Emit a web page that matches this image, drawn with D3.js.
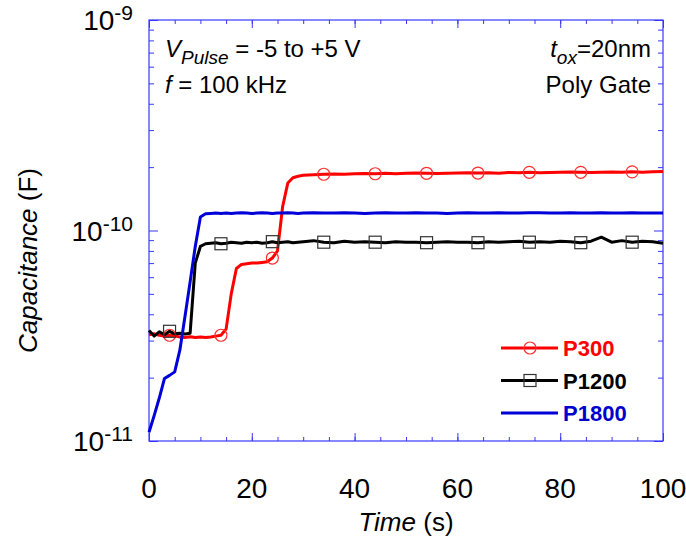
<!DOCTYPE html>
<html>
<head>
<meta charset="utf-8">
<script src="https://cdn.jsdelivr.net/npm/d3@7"></script>
<style>
  body { margin: 0; background: #fff; }
  text { font-family: Arial, "Liberation Sans", sans-serif; }
</style>
</head>
<body>
<div id="graph"></div>
<script>
// time in seconds, capacitance in pF (1 pF = 1e-12 F)
var time = [0,1,2,3,4,5,6,7,8,9,10,11,12,13,14,15,16,17,18,19,20,21,22,23,24,25,26,27,28,29,30,
  32,34,36,38,40,42,44,46,48,50,52,54,56,58,60,62,64,66,68,70,72,74,76,78,80,82,84,86,88,90,92,94,96,98,100];

var p300 = [32.0,32.3,31.8,31.5,31.8,31.6,31.2,31.0,31.3,31.0,31.2,31.0,31.2,31.5,31.8,34,50,66,69,69.5,70,70,70.5,71,74,80,130,168,178,181,183,
  184,185,185.5,185,186,186.5,186,187,186,187,187.5,187,186.5,187,187.5,188,187.5,188,187,188.5,188,189,188,188.5,189,189.5,189,188.5,189,189.5,189,190,189,190,190.5];

var p1200 = [33.5,31.5,33.0,32.0,33.2,32.3,32.5,32.2,32.5,70,84,86.5,87,87.5,86.5,87,88,87.5,87,88,87.5,88,87,87.5,88.5,87.5,88,88.5,87.5,88,88.5,
  89.5,88,87.5,89,88,88.5,88,87.5,88.5,88,88,87.5,88,88.5,88,88,87.5,88.5,88,88.5,89,88,88.5,88,89,88.5,87.5,89,93,88,89.5,88,89,88.5,87];

var p1800 = [11.0,13.2,16.0,19.8,20.5,21.3,27,39,57,84,116,120,120.5,121,120.5,121,120.5,121,121.5,121,120.5,121,121.5,121,120.5,121,121,121.5,121,120.5,121,
  121.5,121,121,121.5,121,120.5,121,121.5,121,121,121.5,121,121,120.5,121,121.5,121,121,121.5,121,121,121.5,121.5,121,121,121.5,121,121,121.5,121,121,121.5,121,121,121];

var markerTimes = [4,14,24,34,44,54,64,74,84,94];
var xTicks = [0,20,40,60,80,100];
var yDecades = [10,100,1000];
var yLabels = ["-11","-10","-9"];
var seriesNames = ["P300","P1200","P1800"];

var margin = {top: 20, right: 23, bottom: 103, left: 149},
width = 686 - margin.left - margin.right,
height = 544 - margin.top - margin.bottom;

var frameColor = "#3838ff";

var svg = d3.select("#graph")
.append("svg")
.attr("width", 686)
.attr("height", 544)
.append("g")
.attr("transform", "translate(" + margin.left + "," + margin.top + ")");

var x = d3.scaleLinear().domain([0, 100]).range([0, width]);
var y = d3.scaleLog().domain([10, 1000]).range([height, 0]);

// minor ticks
var xMinor = d3.range(0, 101, 5);
var yMinor = [];
[10, 100].forEach(function(d) { for (var k = 2; k <= 9; k++) yMinor.push(d * k); });

function tickAxis(axis, g) {
  g.call(axis);
  g.select(".domain").remove();
  g.selectAll("line").attr("stroke", frameColor);
}

// bottom + top
tickAxis(d3.axisBottom(x).tickValues(xMinor).tickSize(-4).tickFormat(""),
  svg.append("g").attr("transform", "translate(0," + height + ")"));
tickAxis(d3.axisBottom(x).tickValues(xTicks).tickSize(-8).tickFormat(""),
  svg.append("g").attr("transform", "translate(0," + height + ")"));
tickAxis(d3.axisTop(x).tickValues(xMinor).tickSize(-4).tickFormat(""), svg.append("g"));
tickAxis(d3.axisTop(x).tickValues(xTicks).tickSize(-8).tickFormat(""), svg.append("g"));
// left + right
tickAxis(d3.axisLeft(y).tickValues(yMinor).tickSize(-5).tickFormat(""), svg.append("g"));
tickAxis(d3.axisLeft(y).tickValues(yDecades).tickSize(-9).tickFormat(""), svg.append("g"));
tickAxis(d3.axisRight(y).tickValues(yMinor).tickSize(-5).tickFormat(""),
  svg.append("g").attr("transform", "translate(" + width + ",0)"));
tickAxis(d3.axisRight(y).tickValues(yDecades).tickSize(-9).tickFormat(""),
  svg.append("g").attr("transform", "translate(" + width + ",0)"));

svg.append("rect")
  .attr("width", width)
  .attr("height", height)
  .attr("fill", "none")
  .attr("stroke", frameColor)
  .attr("stroke-width", 1.2);

// tick labels
svg.selectAll(".xlab")
  .data(xTicks)
  .enter().append("text")
  .attr("class", "xlab")
  .attr("x", function(d) { return x(d); })
  .attr("y", height + 57)
  .attr("text-anchor", "middle")
  .style("font-size", "28px")
  .text(function(d) { return d; });

var ylab = svg.selectAll(".ylab")
  .data(yDecades)
  .enter().append("text")
  .attr("class", "ylab")
  .attr("x", -16)
  .attr("y", function(d) { return y(d) + 10; })
  .attr("text-anchor", "end")
  .style("font-size", "28px");
ylab.append("tspan").text("10");
ylab.append("tspan")
  .attr("dy", -10)
  .style("font-size", "21px")
  .text(function(d, i) { return yLabels[i]; });

// axis titles
var xt = svg.append("text")
  .attr("x", width / 2)
  .attr("y", height + 90)
  .attr("text-anchor", "middle")
  .style("font-size", "26px");
xt.append("tspan").style("font-style", "italic").text("Time");
xt.append("tspan").text(" (s)");

var yt = svg.append("text")
  .attr("transform", "translate(-112," + (height / 2 + 30) + ") rotate(-90)")
  .attr("text-anchor", "middle")
  .style("font-size", "26px");
yt.append("tspan").style("font-style", "italic").text("Capacitance");
yt.append("tspan").text(" (F)");

// annotations
var a1 = svg.append("text").attr("x", 16).attr("y", 37).style("font-size", "24px");
a1.append("tspan").style("font-style", "italic").text("V");
a1.append("tspan").attr("dy", 7).style("font-style", "italic").style("font-size", "19px").text("Pulse");
a1.append("tspan").attr("dy", -7).text(" = -5 to +5 V");

var a2 = svg.append("text").attr("x", 16).attr("y", 73).style("font-size", "24px");
a2.append("tspan").style("font-style", "italic").text("f");
a2.append("tspan").text(" = 100 kHz");

var a3 = svg.append("text").attr("x", width - 12).attr("y", 37).attr("text-anchor", "end").style("font-size", "24px");
a3.append("tspan").style("font-style", "italic").text("t");
a3.append("tspan").attr("dy", 7).style("font-style", "italic").style("font-size", "19px").text("ox");
a3.append("tspan").attr("dy", -7).text("=20nm");

svg.append("text").attr("x", width - 12).attr("y", 73).attr("text-anchor", "end")
  .style("font-size", "24px").text("Poly Gate");

// lines
var series = [
  {name: seriesNames[0], values: p300, color: "#ff0000", textColor: "#ff0000", marker: "circle"},
  {name: seriesNames[1], values: p1200, color: "#000000", textColor: "#000000", marker: "square"},
  {name: seriesNames[2], values: p1800, color: "#0000d8", textColor: "#0000cc", marker: "none"}
];

var line = d3.line()
  .x(function(d) { return x(d.t); })
  .y(function(d) { return y(d.v); });

series.forEach(function(s) {
  s.points = time.map(function(t, i) { return {t: t, v: s.values[i]}; });
  svg.append("path")
    .datum(s.points)
    .attr("fill", "none")
    .attr("stroke", s.color)
    .attr("stroke-width", 3)
    .attr("stroke-linejoin", "round")
    .attr("d", line);
});

// markers
var redPts = series[0].points.filter(function(d) { return markerTimes.indexOf(d.t) >= 0; });
svg.selectAll(".dot")
  .data(redPts)
  .enter().append("circle")
  .attr("class", "dot")
  .attr("cx", function(d) { return x(d.t); })
  .attr("cy", function(d) { return y(d.v); })
  .attr("r", 6)
  .attr("fill", "none")
  .attr("stroke", "#ff3030")
  .attr("stroke-width", 1.2);

var blackPts = series[1].points.filter(function(d) { return markerTimes.indexOf(d.t) >= 0; });
svg.selectAll(".sq")
  .data(blackPts)
  .enter().append("rect")
  .attr("class", "sq")
  .attr("x", function(d) { return x(d.t) - 6; })
  .attr("y", function(d) { return y(d.v) - 6; })
  .attr("width", 12)
  .attr("height", 12)
  .attr("fill", "none")
  .attr("stroke", "#333")
  .attr("stroke-width", 1.2);

// legend
var lg = svg.append("g").attr("transform", "translate(352,328)");
series.forEach(function(s, i) {
  var row = lg.append("g").attr("transform", "translate(0," + (i * 32.5) + ")");
  row.append("line").attr("x1", 0).attr("x2", 57).attr("y1", 0).attr("y2", 0)
    .attr("stroke", s.color).attr("stroke-width", 3);
  if (s.marker === "circle") {
    row.append("circle").attr("cx", 29).attr("cy", 0).attr("r", 6)
      .attr("fill", "none").attr("stroke", "#ff3030").attr("stroke-width", 1.2);
  } else if (s.marker === "square") {
    row.append("rect").attr("x", 23).attr("y", -6).attr("width", 12).attr("height", 12)
      .attr("fill", "none").attr("stroke", "#333").attr("stroke-width", 1.2);
  }
  row.append("text").attr("x", 62).attr("y", 8)
    .style("font-size", "22px").style("font-weight", "bold")
    .attr("fill", s.textColor)
    .text(s.name);
});
</script>
</body>
</html>
